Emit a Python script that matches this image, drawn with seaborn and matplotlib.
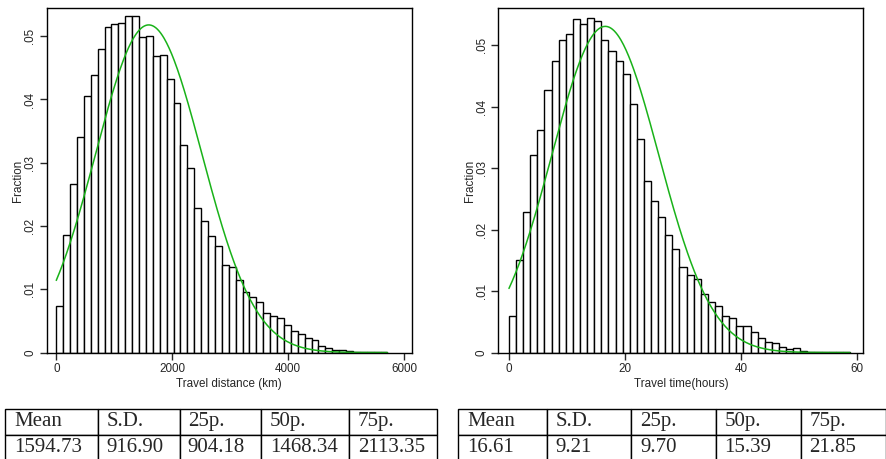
import matplotlib
matplotlib.use('Agg')
import matplotlib.pyplot as plt
import numpy as np
import pandas as pd
import seaborn as sns

# fraction of trips per bin
DIST_BIN_WIDTH = 119.0
DIST_FRAC = [0.0073, 0.0186, 0.0267, 0.0340, 0.0405, 0.0439, 0.0480, 0.0514, 0.0519, 0.0521,
             0.0532, 0.0532, 0.0498, 0.0501, 0.0469, 0.0470, 0.0433, 0.0394, 0.0328, 0.0292,
             0.0228, 0.0208, 0.0184, 0.0169, 0.0138, 0.0136, 0.0115, 0.0095, 0.0088, 0.0080,
             0.0062, 0.0058, 0.0054, 0.0043, 0.0034, 0.0029, 0.0023, 0.0020, 0.0010, 0.0007,
             0.0004, 0.0004, 0.0002, 0.0001, 0.0001, 0.0001, 0.0001, 0.0001]

TIME_BIN_WIDTH = 1.225
TIME_FRAC = [0.0059, 0.0150, 0.0229, 0.0322, 0.0362, 0.0427, 0.0474, 0.0509, 0.0519, 0.0542,
             0.0534, 0.0545, 0.0540, 0.0509, 0.0491, 0.0474, 0.0453, 0.0404, 0.0348, 0.0279,
             0.0247, 0.0221, 0.0191, 0.0169, 0.0139, 0.0126, 0.0120, 0.0096, 0.0082, 0.0075,
             0.0059, 0.0056, 0.0043, 0.0044, 0.0033, 0.0024, 0.0018, 0.0016, 0.0009, 0.0006,
             0.0007, 0.0002, 0.0001, 0.0001, 0.0001, 0.0001, 0.0001, 0.0001]

TABLE_HEADER = ['Mean', 'S.D.', '25p.', '50p.', '75p.']
DIST_STATS = ['1594.73', '916.90', '904.18', '1468.34', '2113.35']
TIME_STATS = ['16.61', '9.21', '9.70', '15.39', '21.85']

DIST_XTICKS = [0, 2000, 4000, 6000]
TIME_XTICKS = [0, 20, 40, 60]
YTICKS = [0, 0.01, 0.02, 0.03, 0.04, 0.05]
YTICK_LABELS = ['0', '.01', '.02', '.03', '.04', '.05']

GREEN = '#19b219'
W, H = 887, 459
LABEL_SIZE = 8.4


def px_axes(fig, x0, y0, x1, y1):
    # pixel box (top-left origin) -> figure axes
    return fig.add_axes([x0 / W, (H - y1) / H, (x1 - x0) / W, (y1 - y0) / H])


def histogram(ax, fracs, width, stats, xlabel, xticks, xlim, ylim):
    fracs = np.asarray(fracs)
    edges = np.arange(len(fracs) + 1) * width
    df = pd.DataFrame({'x': edges[:-1] + width / 2, 'frac': fracs})
    sns.histplot(data=df, x='x', weights='frac', bins=list(edges), stat='count', ax=ax,
                 color='white', edgecolor='black', linewidth=1.0, alpha=1)

    # normal density with the sample mean / sd, scaled to bin fractions
    mean, sd = float(stats[0]), float(stats[1])
    xs = np.linspace(edges[0], edges[-1], 400)
    ys = width * np.exp(-0.5 * ((xs - mean) / sd) ** 2) / (sd * np.sqrt(2 * np.pi))
    sns.lineplot(x=xs, y=ys, ax=ax, color=GREEN, linewidth=1.1)

    ax.set_xlim(*xlim)
    ax.set_ylim(*ylim)
    ax.set_xticks(xticks)
    ax.set_xticklabels([str(t) for t in xticks])
    ax.set_yticks(YTICKS)
    ax.set_yticklabels(YTICK_LABELS, rotation=90, va='center')
    ax.set_xlabel(xlabel, fontsize=LABEL_SIZE, labelpad=2)
    ax.set_ylabel('Fraction', fontsize=LABEL_SIZE, labelpad=0)
    ax.tick_params(axis='both', direction='out', length=5, width=1,
                   labelsize=LABEL_SIZE, pad=2.5)
    for sp in ax.spines.values():
        sp.set_visible(True)
        sp.set_linewidth(1.0)
        sp.set_color('black')


def stats_table(fig, col_lines, values):
    ax = px_axes(fig, col_lines[0], 409, col_lines[-1], 460)
    ax.axis('off')
    widths = np.diff(np.asarray(col_lines, dtype=float))
    tab = ax.table(cellText=[TABLE_HEADER, values], cellLoc='left',
                   colWidths=list(widths / widths.sum()), bbox=[0, 0, 1, 1])
    tab.auto_set_font_size(False)
    for cell in tab.get_celld().values():
        cell.set_linewidth(1.0)
        cell.get_text().set_fontfamily('Liberation Serif')
        cell.get_text().set_fontsize(15)
        cell.PAD = 0.1


sns.set_style('ticks')
plt.rcParams['font.family'] = ['Liberation Sans', 'DejaVu Sans']

fig = plt.figure(figsize=(W / 100, H / 100), dpi=100)

ax1 = px_axes(fig, 46.7, 8.3, 411.7, 352.6)
histogram(ax1, DIST_FRAC, DIST_BIN_WIDTH, DIST_STATS, 'Travel distance (km)',
          DIST_XTICKS, (-165, 6130), (0, 0.0544))

ax2 = px_axes(fig, 498.3, 8.3, 863.3, 352.6)
histogram(ax2, TIME_FRAC, TIME_BIN_WIDTH, TIME_STATS, 'Travel time(hours)',
          TIME_XTICKS, (-1.84, 61.1), (0, 0.056))

stats_table(fig, [5, 98, 179.5, 261, 349, 437], DIST_STATS)
stats_table(fig, [458, 547, 631.5, 716, 801, 886], TIME_STATS)

fig.savefig('out.png', dpi=100)
